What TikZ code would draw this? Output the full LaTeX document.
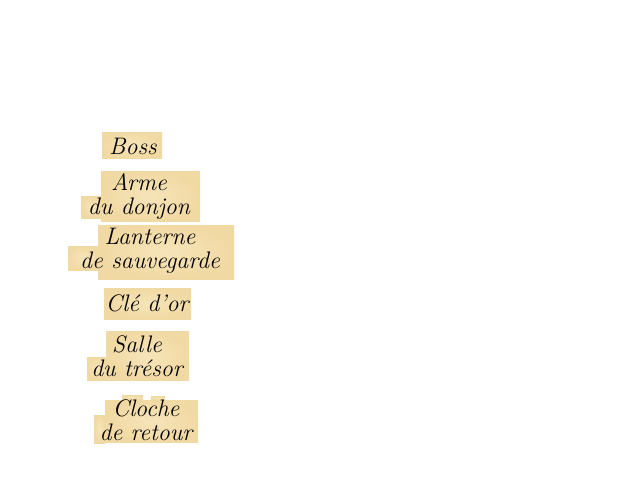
\documentclass[tikz,border=0pt]{standalone}
\usepackage{tikz}
\definecolor{parch}{RGB}{241,217,163}
\definecolor{parchlight}{RGB}{246,228,185}
\tikzset{
  patch/.style={inner color=parchlight,outer color=parch},
  item/.style={font=\fontsize{17}{17}\selectfont\itshape,align=center,inner sep=0pt}
}
\begin{document}
\begin{tikzpicture}[x=0.025cm,y=-0.025cm]
    \useasboundingbox (0,0) rectangle (640,480);
    % backgrounds
    \shade[patch] (102,132) rectangle (162,158);
    \shade[patch] (101,171) rectangle (200,221);
    \shade[patch] (81,196) rectangle (101,218);
    \shade[patch] (98,225) rectangle (234,279);
    \shade[patch] (68,246) rectangle (98,270);
    \shade[patch] (104,288) rectangle (191,319);
    \shade[patch] (106,331) rectangle (189,380);
    \shade[patch] (87,357) rectangle (106,380);
    \shade[patch] (105,400) rectangle (198,442);
    \shade[patch] (122,395) rectangle (143,400);
    \shade[patch] (151,396) rectangle (165,400);
    \shade[patch] (94,415) rectangle (105,443);
    % items
    \node[item] (boss) at (133,146) {Boss};
    \node[item] (arme) at (139,196) {Arme\\du donjon};
    \node[item] (lanterne) at (150,251) {Lanterne\\de sauvegarde};
    \node[item] (cle) at (147,303) {Clé d'or};
    \node[item] (salle) at (137,356) {Salle\\du trésor};
    \node[item] (cloche) at (146,420) {Cloche\\de retour};
\end{tikzpicture}
\end{document}
